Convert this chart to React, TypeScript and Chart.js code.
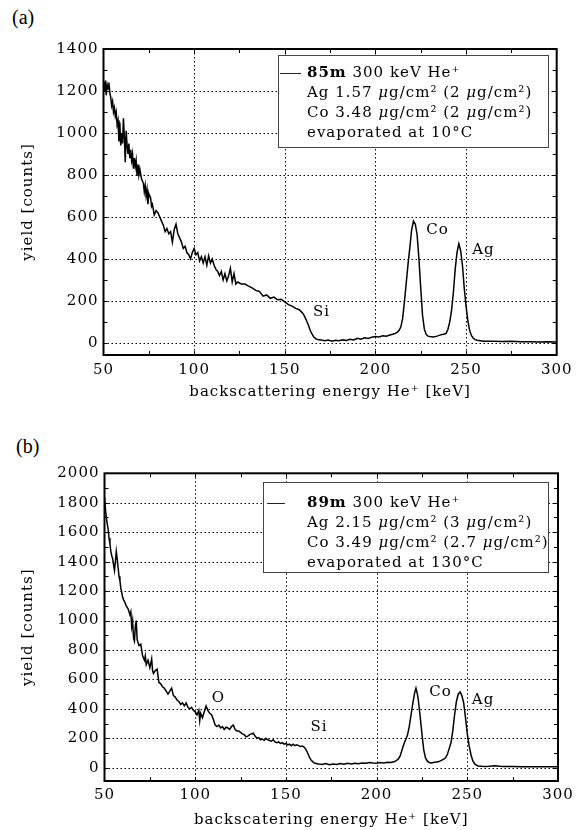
import React, { useEffect, useRef } from "react";
import { Chart, registerables } from "chart.js";
Chart.register(...registerables);

const SERIF = "'DejaVu Serif', serif";

// ---------- Panel (a) data ----------
const energyA = [
  50, 50.5, 51, 51.5, 52, 52.5, 53, 53.5, 54, 54.5,
  55, 55.5, 56, 56.5, 57, 57.5, 58, 58.5, 59, 59.5,
  60, 60.5, 61, 61.5, 62, 62.5, 63, 63.5, 64, 64.5,
  65, 65.5, 66, 66.5, 67, 67.5, 68, 68.5, 69, 69.5,
  70, 71, 72, 72.5, 73, 73.5, 74, 74.5, 75, 76,
  76.5, 77, 78, 79, 80, 81, 82, 83, 84, 85,
  86, 87, 88, 89, 90, 91, 92, 93, 94, 95,
  96, 97, 98, 99, 100, 101, 102, 103, 104, 105,
  106, 107, 108, 109, 110, 111, 112, 113, 114, 115,
  116, 117, 118, 119, 120, 121, 122, 123, 124, 125,
  126, 128, 130, 132, 134, 136, 138, 140, 142, 144,
  146, 148, 150, 152, 154, 156, 158, 160, 161, 162,
  163, 164, 165, 166, 167, 168, 170, 172, 174, 176,
  178, 180, 182, 184, 186, 188, 190, 192, 194, 196,
  198, 200, 202, 204, 206, 208, 210, 211, 212, 213,
  214, 215, 216, 217, 218, 219, 220, 221, 222, 223,
  224, 225, 226, 227, 228, 229, 230, 232, 234, 236,
  238, 239, 240, 241, 242, 243, 244, 245, 246, 247,
  248, 249, 250, 251, 252, 253, 254, 255, 256, 258,
  260, 265, 270, 275, 280, 285, 290, 295, 300,
];
const yieldA = [
  1240, 1200, 1250, 1180, 1230, 1210, 1240, 1190, 1170, 1130,
  1150, 1100, 1120, 1080, 1100, 1040, 1060, 960, 1050, 940,
  1000, 950, 1070, 980, 860, 1010, 940, 900, 950, 880,
  920, 870, 900, 830, 880, 840, 870, 800, 850, 800,
  830, 780, 760, 720, 750, 700, 730, 660, 710, 690,
  650, 660, 610, 630, 620, 600, 580, 560, 530, 545,
  520, 530, 480, 540, 565, 520, 500, 480, 450, 460,
  430, 420, 400, 430, 450, 420, 430, 390, 410, 380,
  410, 370, 415, 380, 400, 370, 350, 340, 320, 340,
  300, 330, 295, 320, 355, 290, 330, 280, 290, 285,
  280, 280, 270, 262, 250, 245, 222, 228, 212, 218,
  205, 208, 195, 182, 175, 164, 158, 140, 125, 105,
  85, 60, 42, 28, 20, 16, 14, 10, 13, 8,
  12, 10, 14, 11, 17, 14, 22, 17, 24, 21,
  27, 30, 28, 34, 31, 37, 42, 45, 50, 58,
  75, 115, 195, 285, 375, 455, 540, 580, 565, 515,
  400, 260, 130, 65, 40, 32, 30, 28, 32, 38,
  42, 45, 65, 100, 155, 240, 350, 430, 472, 440,
  370, 260, 175, 105, 58, 34, 22, 15, 12, 10,
  8, 7, 6, 7, 5, 5, 4, 5, 4,
];

// ---------- Panel (b) data ----------
const energyB = [
  50, 50.5, 51, 51.5, 52, 52.5, 53, 53.5, 54, 54.5,
  55, 55.5, 56, 56.5, 57, 57.5, 58, 58.5, 59, 59.5,
  60, 60.5, 61, 62, 63, 64, 64.5, 65, 65.5, 66,
  66.5, 67, 67.5, 68, 69, 70, 70.5, 71, 72, 72.5,
  73, 74, 75, 76, 76.5, 77, 78, 79, 80, 81,
  82, 83, 84, 85, 86, 87, 88, 89, 90, 91,
  92, 93, 94, 95, 96, 97, 98, 99, 100, 101,
  102, 102.5, 103, 104, 105, 106, 107, 108, 109, 110,
  111, 112, 113, 114, 115, 116, 117, 118, 119, 120,
  121, 122, 123, 124, 125, 126, 127, 128, 129, 130,
  131, 132, 133, 134, 135, 136, 137, 138, 139, 140,
  141, 142, 143, 144, 145, 146, 147, 148, 149, 150,
  151, 152, 153, 154, 155, 156, 157, 158, 159, 160,
  161, 162, 163, 164, 165, 166, 168, 170, 172, 174,
  176, 178, 180, 182, 184, 186, 188, 190, 192, 194,
  196, 198, 200, 202, 204, 206, 208, 210, 211, 212,
  213, 214, 215, 216, 217, 218, 219, 220, 221, 221.7,
  222.5, 223, 224, 225, 226, 227, 228, 229, 230, 232,
  234, 236, 237, 238, 239, 240, 241, 242, 243, 244,
  245, 246, 247, 248, 249, 250, 251, 252, 253, 254,
  255, 256, 258, 260, 262, 265, 268, 270, 275, 280,
  285, 290, 295, 300,
];
const yieldB = [
  1840, 1760, 1700, 1660, 1620, 1560, 1520, 1470, 1440, 1420,
  1380, 1340, 1400, 1470, 1420, 1360, 1300, 1270, 1220, 1190,
  1160, 1140, 1130, 1100, 1080, 1040, 1060, 960, 1000, 880,
  860, 960, 1000, 870, 830, 840, 800, 760, 730, 760,
  700, 730, 680, 740, 660, 640, 660, 670, 580, 570,
  550, 540, 520, 500, 520, 540, 490, 480, 460, 450,
  430, 440, 420, 440, 410, 400, 410, 390, 380, 360,
  390, 320, 370, 340, 380, 420, 390, 370, 360, 330,
  290, 280, 290, 270, 280, 260, 275, 270, 260, 280,
  290, 260, 250, 250, 240, 230, 225, 210, 215, 225,
  230, 235, 215, 200, 205, 190, 195, 185, 200, 190,
  185, 180, 190, 175, 170, 175, 165, 170, 160, 165,
  155, 160, 150, 160, 150, 155, 150, 145, 148, 140,
  125, 100, 70, 50, 38, 30, 25, 22, 28, 20,
  25, 22, 28, 24, 30, 26, 30, 28, 33, 30,
  35, 32, 30, 35, 33, 38, 36, 42, 50, 60,
  80, 120, 160, 190, 220, 280, 360, 440, 510, 540,
  500, 460, 350, 230, 120, 65, 45, 35, 33, 38,
  40, 52, 58, 68, 90, 130, 170, 250, 360, 450,
  500, 515, 490, 440, 340, 230, 150, 90, 48, 28,
  18, 12, 10, 9, 10, 14, 10, 8, 8, 7,
  7, 6, 6, 6,
];

// ---------- Axes / labels ----------
const xTicks = [50, 100, 150, 200, 250, 300];
const yTicksA = [0, 200, 400, 600, 800, 1000, 1200, 1400];
const yTicksB = [0, 200, 400, 600, 800, 1000, 1200, 1400, 1600, 1800, 2000];
const xTitleA = "backscattering energy He\u207A [keV]";
const xTitleB = "backscatering energy He\u207A [keV]";
const yTitle = "yield [counts]";

type Run = { t: string; b?: boolean; i?: boolean };
const legendA: Run[][] = [
  [{ t: "85m", b: true }, { t: " 300 keV He\u207A" }],
  [{ t: "Ag 1.57 " }, { t: "\u03BC", i: true }, { t: "g/cm\u00B2 (2 " }, { t: "\u03BC", i: true }, { t: "g/cm\u00B2)" }],
  [{ t: "Co 3.48 " }, { t: "\u03BC", i: true }, { t: "g/cm\u00B2 (2 " }, { t: "\u03BC", i: true }, { t: "g/cm\u00B2)" }],
  [{ t: "evaporated at 10\u00B0C" }],
];
const legendB: Run[][] = [
  [{ t: "89m", b: true }, { t: " 300 keV He\u207A" }],
  [{ t: "Ag 2.15 " }, { t: "\u03BC", i: true }, { t: "g/cm\u00B2 (3 " }, { t: "\u03BC", i: true }, { t: "g/cm\u00B2)" }],
  [{ t: "Co 3.49 " }, { t: "\u03BC", i: true }, { t: "g/cm\u00B2 (2.7 " }, { t: "\u03BC", i: true }, { t: "g/cm\u00B2)" }],
  [{ t: "evaporated at 130\u00B0C" }],
];

const notesA = [
  { t: "Co", e: 234.3, c: 537 },
  { t: "Ag", e: 259.6, c: 441 },
  { t: "Si", e: 170.3, c: 146 },
];
const notesB = [
  { t: "O", e: 112.8, c: 474 },
  { t: "Si", e: 168.2, c: 277 },
  { t: "Co", e: 235.2, c: 515 },
  { t: "Ag", e: 258.7, c: 460 },
];

type PanelProps = {
  top: number;
  height: number;
  energies: number[];
  yields: number[];
  yMin: number;
  yMax: number;
  yTicks: number[];
  xTitle: string;
  padTop: number;
  padRight: number;
  yAxisWidth: number;
  xAxisHeight: number;
  xTickPad: number;
  xTitlePad: number;
  legend: Run[][];
  legendBox: number[]; // x, y, w, h
  legendSample: number[]; // x1, x2
  legendTextX: number;
  legendFirstY: number;
  notes: { t: string; e: number; c: number }[];
};

function Panel(p: PanelProps) {
  const ref = useRef<HTMLCanvasElement>(null);
  useEffect(() => {
    if (!ref.current) return;
    const overlay = {
      id: "overlay",
      beforeDraw(chart: any) {
        chart.ctx.letterSpacing = "1px";
      },
      beforeDatasetsDraw(chart: any) {
        const { ctx, chartArea: a, scales } = chart;
        const xs = scales.x;
        const ys = scales.y;
        ctx.save();
        ctx.strokeStyle = "#000";
        ctx.lineWidth = 1;
        ctx.setLineDash([1.5, 2.5]);
        ctx.beginPath();
        for (const v of xTicks) {
          if (v <= 50 || v >= 300) continue;
          const px = Math.round(xs.getPixelForValue(v)) + 0.5;
          ctx.moveTo(px, a.top);
          ctx.lineTo(px, a.bottom);
        }
        for (const v of p.yTicks) {
          if (v >= p.yMax) continue;
          const py = Math.round(ys.getPixelForValue(v)) + 0.5;
          ctx.moveTo(a.left, py);
          ctx.lineTo(a.right, py);
        }
        ctx.stroke();
        ctx.restore();
      },
      afterDatasetsDraw(chart: any) {
        const { ctx, chartArea: a, scales } = chart;
        const xs = scales.x;
        const ys = scales.y;
        ctx.save();
        ctx.setLineDash([]);
        ctx.strokeStyle = "#000";
        ctx.lineWidth = 1;
        const tl = 4;
        ctx.beginPath();
        for (let v = 75; v < 300; v += 25) {
          const px = Math.round(xs.getPixelForValue(v)) + 0.5;
          ctx.moveTo(px, a.top);
          ctx.lineTo(px, a.top + tl);
          ctx.moveTo(px, a.bottom);
          ctx.lineTo(px, a.bottom - tl);
        }
        for (let v = 0; v < p.yMax; v += 100) {
          const py = Math.round(ys.getPixelForValue(v)) + 0.5;
          ctx.moveTo(a.left, py);
          ctx.lineTo(a.left + tl, py);
          ctx.moveTo(a.right, py);
          ctx.lineTo(a.right - tl, py);
        }
        ctx.stroke();
        // frame
        ctx.lineWidth = 2;
        ctx.strokeRect(a.left, a.top, a.right - a.left, a.bottom - a.top);

        // annotations
        ctx.fillStyle = "#000";
        ctx.font = `15px ${SERIF}`;
        ctx.textAlign = "center";
        ctx.textBaseline = "middle";
        for (const n of p.notes) {
          ctx.fillText(n.t, xs.getPixelForValue(n.e), ys.getPixelForValue(n.c));
        }

        // legend
        const [bx, by, bw, bh] = p.legendBox;
        ctx.fillStyle = "#fff";
        ctx.fillRect(bx, by, bw, bh);
        ctx.strokeStyle = "#444";
        ctx.lineWidth = 1;
        ctx.strokeRect(bx + 0.5, by + 0.5, bw, bh);
        ctx.strokeStyle = "#222";
        ctx.beginPath();
        ctx.moveTo(p.legendSample[0], p.legendFirstY + 0.5);
        ctx.lineTo(p.legendSample[1], p.legendFirstY + 0.5);
        ctx.stroke();
        ctx.fillStyle = "#000";
        ctx.textAlign = "left";
        ctx.textBaseline = "middle";
        p.legend.forEach((line, li) => {
          let x = p.legendTextX;
          const y = p.legendFirstY + li * 20;
          for (const r of line) {
            ctx.font = `${r.i ? "italic " : ""}${r.b ? "bold " : ""}15px ${SERIF}`;
            ctx.fillText(r.t, x, y);
            x += ctx.measureText(r.t).width;
          }
        });
        ctx.restore();
      },
    };

    const font = { family: SERIF, size: 15 };
    const chart = new Chart(ref.current, {
      type: "line",
      data: {
        datasets: [
          {
            data: p.energies.map((x, i) => ({ x, y: p.yields[i] })),
            borderColor: "#000",
            borderWidth: 1.5,
            pointRadius: 0,
            tension: 0,
            fill: false,
          },
        ],
      },
      options: {
        animation: false,
        responsive: false,
        devicePixelRatio: 1,
        events: [],
        layout: { padding: { top: p.padTop, right: p.padRight, left: 0, bottom: 0 } },
        plugins: { legend: { display: false }, tooltip: { enabled: false } },
        scales: {
          x: {
            type: "linear",
            min: 50,
            max: 300,
            grid: { display: false, drawTicks: false },
            border: { display: false },
            afterBuildTicks: (s: any) => {
              s.ticks = xTicks.map((v) => ({ value: v }));
            },
            afterFit: (s: any) => {
              s.height = p.xAxisHeight;
            },
            ticks: {
              color: "#000",
              font,
              padding: p.xTickPad,
              maxRotation: 0,
              autoSkip: false,
              callback: (v: any) => String(v),
            },
            title: {
              display: true,
              text: p.xTitle,
              color: "#000",
              font,
              padding: { top: 0, bottom: p.xTitlePad },
            },
          },
          y: {
            type: "linear",
            min: p.yMin,
            max: p.yMax,
            grid: { display: false, drawTicks: false },
            border: { display: false },
            afterBuildTicks: (s: any) => {
              s.ticks = p.yTicks.map((v) => ({ value: v }));
            },
            afterFit: (s: any) => {
              s.width = p.yAxisWidth;
            },
            ticks: {
              color: "#000",
              font,
              padding: 5,
              autoSkip: false,
              callback: (v: any) => String(v),
            },
            title: {
              display: true,
              text: yTitle,
              color: "#000",
              font,
              padding: { top: 19, bottom: 0 },
            },
          },
        },
      } as any,
      plugins: [overlay as any],
    });
    return () => chart.destroy();
  }, []);
  return (
    <canvas
      ref={ref}
      width={588}
      height={p.height}
      style={{ position: "absolute", left: 0, top: p.top, width: 588, height: p.height, display: "block" }}
    />
  );
}

export default function App() {
  const labelStyle: React.CSSProperties = {
    position: "absolute",
    fontFamily: "'Liberation Serif', serif",
    fontSize: 20,
    lineHeight: "20px",
    color: "#000",
  };
  return (
    <div style={{ position: "absolute", left: 0, top: 0, width: 588, height: 830, background: "#fff" }}>
      <div style={{ ...labelStyle, left: 12, top: 7 }}>(a)</div>
      <div style={{ ...labelStyle, left: 16, top: 436 }}>(b)</div>
      <Panel
        top={0}
        height={410}
        energies={energyA}
        yields={yieldA}
        yMin={-58}
        yMax={1400}
        yTicks={yTicksA}
        xTitle={xTitleA}
        padTop={49}
        padRight={31.3}
        yAxisWidth={103.5}
        xAxisHeight={55}
        xTickPad={6}
        xTitlePad={9}
        legend={legendA}
        legendBox={[278, 55, 270, 92]}
        legendSample={[280, 301]}
        legendTextX={307}
        legendFirstY={73}
        notes={notesA}
      />
      <Panel
        top={415}
        height={415}
        energies={energyB}
        yields={yieldB}
        yMin={-90}
        yMax={2000}
        yTicks={yTicksB}
        xTitle={xTitleB}
        padTop={58.3}
        padRight={30}
        yAxisWidth={104.5}
        xAxisHeight={49}
        xTickPad={5}
        xTitlePad={1}
        legend={legendB}
        legendBox={[263, 67, 285, 90]}
        legendSample={[267, 285]}
        legendTextX={307}
        legendFirstY={88}
        notes={notesB}
      />
    </div>
  );
}
